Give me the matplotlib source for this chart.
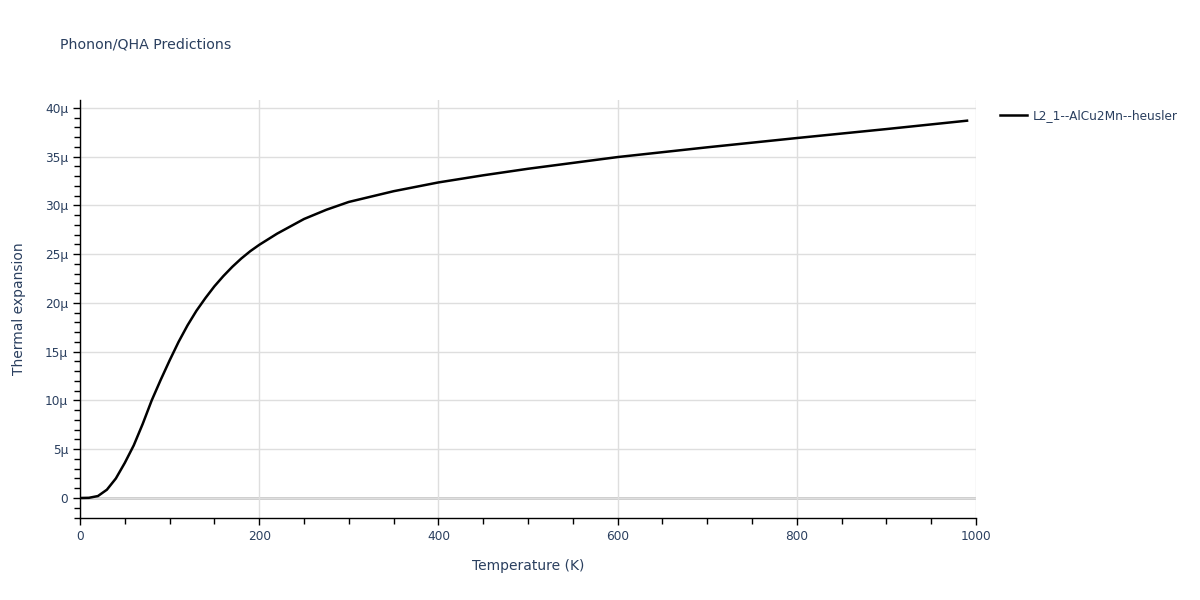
import matplotlib
matplotlib.use("Agg")
import matplotlib.pyplot as plt
from matplotlib.ticker import MultipleLocator, FuncFormatter

# temperature (K) and thermal expansion (in units of 1e-6)
temperature = [0, 10, 20, 30, 40, 50, 60, 70, 80, 90, 100, 110, 120, 130, 140,
               150, 160, 170, 180, 190, 200, 220, 250, 275, 300, 350, 400, 450,
               500, 600, 700, 800, 900, 990]
expansion = [0.0, 0.02, 0.2, 0.85, 2.0, 3.6, 5.4, 7.6, 10.0, 12.1, 14.1, 16.0,
             17.7, 19.2, 20.5, 21.7, 22.75, 23.7, 24.55, 25.3, 25.95, 27.1, 28.6,
             29.55, 30.35, 31.45, 32.35, 33.08, 33.75, 34.95, 35.95, 36.9, 37.82, 38.68]
series_name = "L2_1--AlCu2Mn--heusler"

TEXT = "#2a3f5f"

fig = plt.figure(figsize=(12, 6), dpi=100)
ax = fig.add_axes([80 / 1200, 1 - 518 / 600, 896 / 1200, 418 / 600])

ax.plot(temperature, expansion, color="black", lw=1.8, label=series_name, zorder=3)

ax.set_xlim(0, 1000)
ax.set_ylim(-2.05, 40.8)

ax.xaxis.set_major_locator(MultipleLocator(200))
ax.xaxis.set_minor_locator(MultipleLocator(50))
ax.yaxis.set_major_locator(MultipleLocator(5))
ax.yaxis.set_minor_locator(MultipleLocator(1))
ax.yaxis.set_major_formatter(FuncFormatter(lambda v, p: "0" if abs(v) < 1e-9 else f"{int(round(v))}μ"))

ax.grid(True, which="major", color="#dedede", lw=1, zorder=0)
ax.axhline(0, color="#c8c8c8", lw=2, zorder=1)

for s in ["top", "right"]:
    ax.spines[s].set_visible(False)
ax.spines["left"].set_linewidth(1)
ax.spines["bottom"].set_linewidth(1)

ax.tick_params(which="major", direction="out", length=5, width=1, color="black",
               labelsize=8.7, labelcolor=TEXT)
ax.tick_params(which="minor", direction="out", length=4, width=1, color="black")

ax.set_xlabel("Temperature (K)", fontsize=10, color=TEXT, labelpad=12)
ax.set_ylabel("Thermal expansion", fontsize=10, color=TEXT, labelpad=14)

fig.text(60 / 1200, 1 - 45 / 600, "Phonon/QHA Predictions", fontsize=10.2, color=TEXT,
         va="center", ha="left")

ax.legend(loc="upper left", bbox_to_anchor=(1.015, 1.005), frameon=False,
          fontsize=8.7, labelcolor=TEXT, handlelength=2.2, handletextpad=0.5)

fig.savefig("out.png", dpi=100)
